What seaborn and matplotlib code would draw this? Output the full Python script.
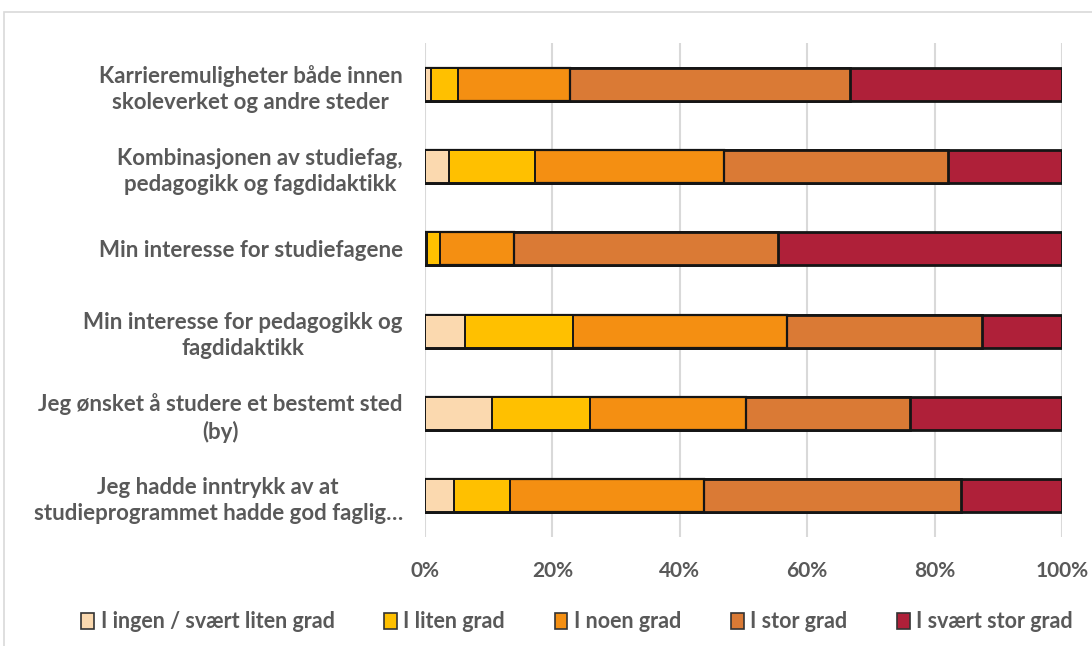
import matplotlib
matplotlib.use("Agg")
import matplotlib.pyplot as plt
import matplotlib.patches as mpatches
import seaborn as sns
import numpy as np
import pandas as pd

categories = [
    "Karrieremuligheter både innen\nskoleverket og andre steder",
    "Kombinasjonen av studiefag,\npedagogikk og fagdidaktikk",
    "Min interesse for studiefagene",
    "Min interesse for pedagogikk og\nfagdidaktikk",
    "Jeg ønsket å studere et bestemt sted\n(by)",
    "Jeg hadde inntrykk av at\nstudieprogrammet hadde god faglig…",
]
series_names = ["I ingen / svært liten grad", "I liten grad", "I noen grad",
                "I stor grad", "I svært stor grad"]
ingen = [0.9, 3.8, 0.3, 6.3, 10.5, 4.6]
liten = [4.3, 13.5, 2.1, 17.0, 15.4, 8.7]
noen = [17.5, 29.7, 11.6, 33.5, 24.5, 30.5]
stor = [44.0, 35.1, 41.4, 30.6, 25.7, 40.4]
svaert = [33.3, 17.9, 44.6, 12.6, 23.9, 15.8]
xticks = [0, 20, 40, 60, 80, 100]
xtick_labels = ["0%", "20%", "40%", "60%", "80%", "100%"]

colors = ["#FBD9AF", "#FFC000", "#F48F12", "#DA7A35", "#AF2039"]
edge_w = [1.4, 1.4, 1.6, 2.0, 2.0]

sns.set_style("white")
plt.rcParams["font.family"] = ["Lato", "DejaVu Sans"]

fig = plt.figure(figsize=(10.92, 6.46), dpi=100)
ax = fig.add_axes([425 / 1092, 1 - 537 / 646, (1062 - 425) / 1092, (537 - 43) / 646])

vals = np.array([ingen, liten, noen, stor, svaert])
cum = np.cumsum(vals, axis=0)
for i in range(len(series_names) - 1, -1, -1):
    df = pd.DataFrame({"cat": categories, "val": cum[i]})
    sns.barplot(data=df, x="val", y="cat", orient="h", color=colors[i],
                saturation=1, width=0.4, edgecolor="#151515",
                linewidth=edge_w[i], ax=ax, zorder=3)

ax.set_xlim(0, 100)
ax.set_xticks(xticks)
ax.set_xticklabels(xtick_labels)
ax.set_xlabel("")
ax.set_ylabel("")
ax.grid(axis="x", color="#D9D9D9", linewidth=1.5, zorder=0)
ax.set_axisbelow(True)
for s in ax.spines.values():
    s.set_visible(False)
ax.tick_params(axis="both", length=0)
ax.tick_params(axis="x", pad=17, labelsize=15, labelcolor="#595959")
ax.tick_params(axis="y", pad=16, labelsize=16, labelcolor="#595959")
for t in ax.get_xticklabels():
    t.set_fontweight("bold")
for t in ax.get_yticklabels():
    t.set_fontweight("bold")
    t.set_multialignment("center")
    t.set_linespacing(1.3)

handles = [mpatches.Patch(facecolor=c, edgecolor="#333333", linewidth=1.2)
           for c in colors]
leg = fig.legend(handles, series_names, loc="center", ncol=5,
                 bbox_to_anchor=(577 / 1092, 1 - 622 / 646), frameon=False,
                 handlelength=0.6, handleheight=0.7, handletextpad=0.3,
                 columnspacing=2.3, prop={"weight": "bold", "size": 15.5})
for t in leg.get_texts():
    t.set_color("#595959")

frame = mpatches.Rectangle((4 / 1092, -0.05), 1.1, 1 - 12 / 646 + 0.05,
                           transform=fig.transFigure, fill=False,
                           edgecolor="#D9D9D9", linewidth=1.2)
fig.patches.append(frame)

fig.savefig("out.png", dpi=100)
